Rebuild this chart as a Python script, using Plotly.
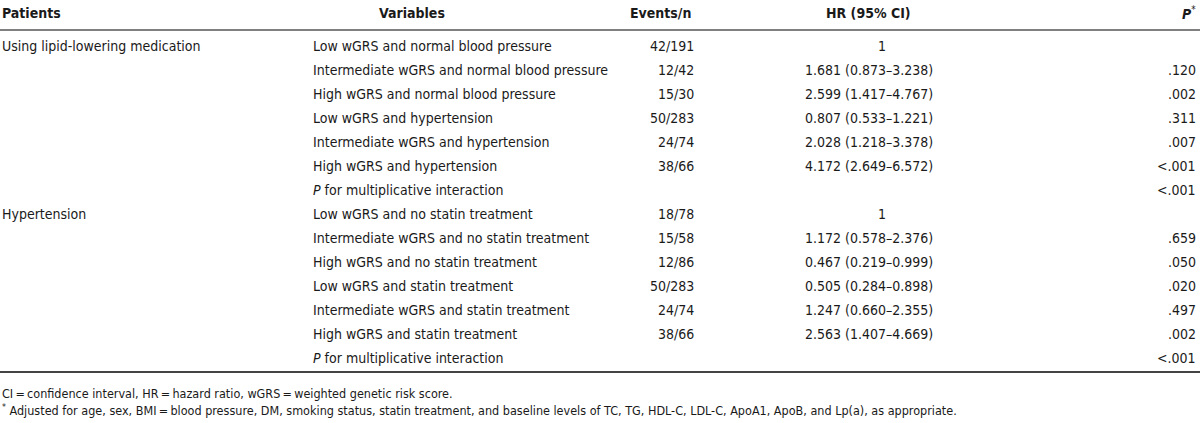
import plotly.graph_objects as go

# ---- data ----
headers = ["Patients", "Variables", "Events/n", "HR (95% CI)", "<b><i>P</i></b><sup>*</sup>"]
patients = ["Using lipid-lowering medication", "", "", "", "", "", "",
            "Hypertension", "", "", "", "", "", ""]
variables = [
    "Low wGRS and normal blood pressure",
    "Intermediate wGRS and normal blood pressure",
    "High wGRS and normal blood pressure",
    "Low wGRS and hypertension",
    "Intermediate wGRS and hypertension",
    "High wGRS and hypertension",
    "<i>P</i> for multiplicative interaction",
    "Low wGRS and no statin treatment",
    "Intermediate wGRS and no statin treatment",
    "High wGRS and no statin treatment",
    "Low wGRS and statin treatment",
    "Intermediate wGRS and statin treatment",
    "High wGRS and statin treatment",
    "<i>P</i> for multiplicative interaction",
]
events = ["42/191", "12/42", "15/30", "50/283", "24/74", "38/66", "",
          "18/78", "15/58", "12/86", "50/283", "24/74", "38/66", ""]
hr = ["1", "1.681 (0.873–3.238)", "2.599 (1.417–4.767)", "0.807 (0.533–1.221)",
      "2.028 (1.218–3.378)", "4.172 (2.649–6.572)", "",
      "1", "1.172 (0.578–2.376)", "0.467 (0.219–0.999)", "0.505 (0.284–0.898)",
      "1.247 (0.660–2.355)", "2.563 (1.407–4.669)", ""]
pvals = ["", ".120", ".002", ".311", ".007", "<.001", "<.001",
         "", ".659", ".050", ".020", ".497", ".002", "<.001"]
footnote1 = "CI\u2009=\u2009confidence interval, HR\u2009=\u2009hazard ratio, wGRS\u2009=\u2009weighted genetic risk score."
footnote2 = ("<sup>*</sup> Adjusted for age, sex, BMI\u2009=\u2009blood pressure, DM, smoking status, statin treatment, "
             "and baseline levels of TC, TG, HDL-C, LDL-C, ApoA1, ApoB, and Lp(a), as appropriate.")

# ---- layout constants ----
W, H = 1200, 423
FONT = "DejaVu Sans Condensed, Liberation Sans Narrow, sans-serif"
TXT = "#1a1a1a"
FS = 14
row0, rowstep = 46, 24
header_y = 13

fig = go.Figure()
fig.add_trace(go.Scatter(x=[0, W], y=[0, H], mode="markers", marker=dict(opacity=0),
                         hoverinfo="skip", showlegend=False))

ann = []
def add(x, y, text, anchor, size=FS, bold=False):
    ann.append(dict(x=x, y=y, xref="x", yref="y", text=(f"<b>{text}</b>" if bold else text),
                    showarrow=False, xanchor=anchor, yanchor="middle",
                    font=dict(family=FONT, size=size, color=TXT)))

# headers
add(0, header_y, headers[0], "left", bold=True)
add(412, header_y, headers[1], "center", bold=True)
add(660, header_y, headers[2], "center", bold=True)
add(868, header_y, headers[3], "center", bold=True)
add(1198, header_y, headers[4], "right")

for i in range(len(variables)):
    y = row0 + rowstep * i
    if patients[i]:
        add(0, y, patients[i], "left")
    add(311, y, variables[i], "left")
    if events[i]:
        add(696, y, events[i], "right")
    if hr[i] == "1":
        add(882, y, hr[i], "center")
    elif hr[i]:
        add(869, y, hr[i], "center")
    if pvals[i]:
        add(1198, y, pvals[i].replace("<", "&lt;"), "right")

add(0, 393, footnote1, "left", size=12.5)
add(0, 410, footnote2, "left", size=12.5)

shapes = [
    dict(type="line", xref="x", yref="y", x0=0, x1=W, y0=30, y1=30, line=dict(color="#555555", width=1.5)),
    dict(type="line", xref="x", yref="y", x0=0, x1=W, y0=372, y1=372, line=dict(color="#444444", width=2.2)),
]

fig.update_layout(
    width=W, height=H, margin=dict(l=0, r=0, t=0, b=0),
    paper_bgcolor="white", plot_bgcolor="white",
    xaxis=dict(range=[0, W], visible=False, fixedrange=True),
    yaxis=dict(range=[H, 0], visible=False, fixedrange=True),
    annotations=ann, shapes=shapes, showlegend=False,
)
fig.write_html("out.html", config={"displayModeBar": False},
               post_script="document.body.style.margin='0';document.body.style.overflow='hidden';")
